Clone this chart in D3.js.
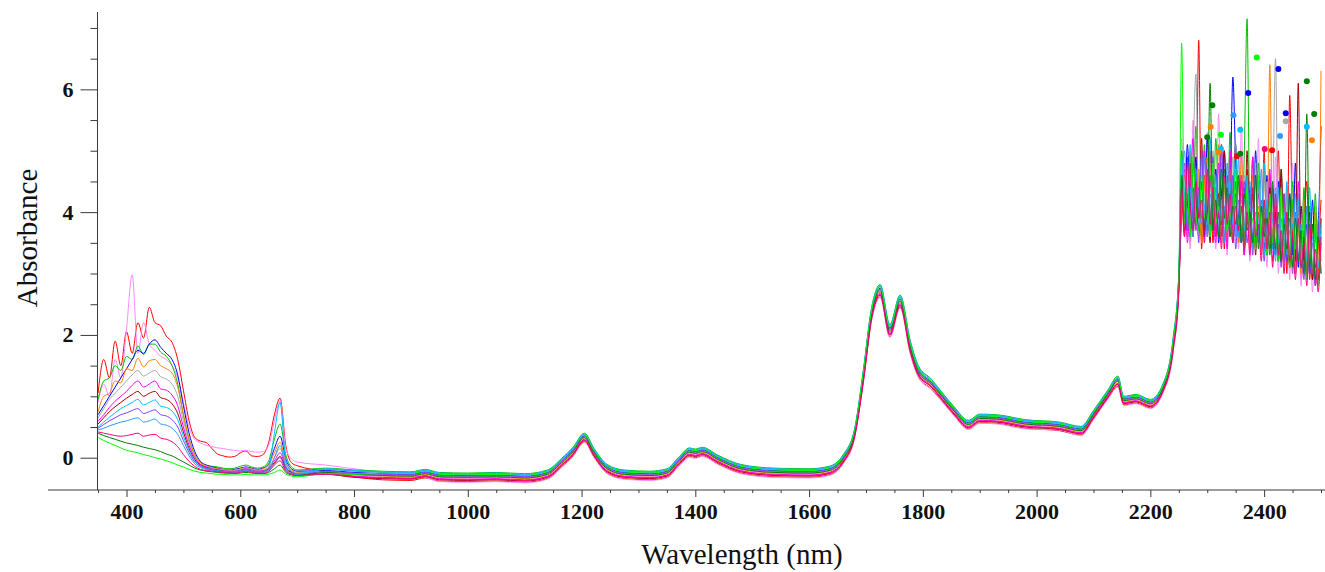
<!DOCTYPE html>
<html>
<head>
<meta charset="utf-8">
<script src="https://cdn.jsdelivr.net/npm/d3@7"></script>
<style>
  body { margin: 0; background: #fff; }
  svg { display: block; }
</style>
</head>
<body>
<svg id="chart" width="1325" height="572"></svg>
<script>
// wavelength grids (nm)
const visWl = [350,360,370,380,390,400,410,420,430,440,450,460,470,480,490,500,510,520,530,540,
  550,560,570,580,590,600,610,620,630,640,650,660,670,680,690,700];
const nirWl = [750,800,850,900,925,950,1000,1050,1100,1140,1165,1185,1205,1222,1245,1275,1320,1350,1370,1390,
  1400,1412,1440,1480,1540,1600,1635,1660,1680,1695,1710,1725,1742,1760,1778,1792,1815,1835,1855,1880,
  1900,1930,1980,2040,2078,2100,2125,2143,2153,2175,2200,2222,2240,2250];
const swirWl = [2255,2260,2265,2270,2275,2280,2285,2290,2295,2300,2305,2310,2315,2320,2325,2330,2335,2340,2345,2350,
  2355,2360,2365,2370,2375,2380,2385,2390,2395,2400,2405,2410,2415,2420,2425,2430,2435,2440,2445,2450,
  2455,2460,2465,2470,2475,2480,2485,2490,2495,2500];
const wavelengths = visWl.concat(nirWl, swirWl);

// absorbance spectra, one array per sample (vis | nir | swir)
const red = [1.05,1.6,1.3,1.9,1.5,2.05,1.7,2.2,1.95,2.45,2.2,2.15,1.98,1.88,1.6,1.1,0.6,0.33,0.27,0.25,0.15,0.06,0.03,0.01,0.02,0.08,0.11,0.03,0.02,0.05,0.25,0.7,0.97,0.2,-0.08,-0.13,
  -0.22,-0.31,-0.36,-0.37,-0.33,-0.38,-0.39,-0.38,-0.40,-0.34,-0.15,0.03,0.26,0.01,-0.25,-0.34,-0.36,-0.32,-0.14,0.02,0.00,0.03,-0.10,-0.25,-0.31,-0.32,-0.28,-0.09,0.33,1.20,2.25,2.62,1.97,2.45,1.70,1.32,1.12,0.91,0.69,0.47,0.57,0.56,0.48,0.44,0.37,0.63,0.96,1.16,0.86,0.89,0.81,1.06,1.73,2.70,
  4.2,3.6,4.9,3.5,4.4,3.8,6.8,3.4,4.6,3.7,5.0,3.5,4.4,3.9,5.1,3.4,4.6,3.6,4.3,5.1,3.5,4.1,3.3,4.7,3.6,4.9,3.5,4.0,3.4,5.0,3.3,4.4,3.2,3.9,5.0,3.2,4.3,3.0,5.9,3.6,3.0,4.1,2.9,3.6,4.5,2.9,3.8,2.8,3.4,4.2];
const pink = [0.9,1.2,1.0,1.6,1.3,2.1,2.98,1.7,2.2,1.85,1.75,1.65,1.6,1.5,1.3,0.9,0.5,0.3,0.24,0.2,0.18,0.16,0.15,0.13,0.12,0.11,0.12,0.1,0.09,0.1,0.2,0.6,0.92,0.15,-0.02,-0.07,
  -0.12,-0.18,-0.24,-0.30,-0.32,-0.39,-0.40,-0.39,-0.41,-0.35,-0.16,0.02,0.25,0.00,-0.26,-0.35,-0.37,-0.33,-0.15,0.01,-0.01,0.02,-0.11,-0.26,-0.32,-0.33,-0.29,-0.10,0.32,1.19,2.24,2.61,1.96,2.44,1.69,1.31,1.11,0.90,0.68,0.46,0.56,0.55,0.47,0.45,0.36,0.62,0.95,1.15,0.85,0.88,0.80,1.05,1.72,2.68,
  5.2,3.9,4.6,3.4,5.5,4.0,3.6,4.8,3.5,5.3,3.8,4.3,3.4,5.6,3.7,4.5,3.3,4.9,3.6,4.2,3.4,5.4,3.5,4.4,3.2,4.7,3.4,5.2,3.3,4.0,3.1,4.6,3.3,4.9,3.0,4.2,3.1,4.4,2.9,4.8,3.0,3.9,2.8,4.3,2.9,3.7,2.7,4.1,2.8,3.6];
const green = [0.95,1.25,1.3,1.5,1.42,1.65,1.6,1.82,1.68,1.85,1.85,1.72,1.65,1.5,1.2,0.7,0.3,0.05,-0.08,-0.12,-0.14,-0.15,-0.17,-0.18,-0.17,-0.14,-0.12,-0.15,-0.17,-0.15,-0.05,0.3,0.55,0.05,-0.15,-0.2,
  -0.17,-0.20,-0.22,-0.23,-0.19,-0.24,-0.25,-0.24,-0.26,-0.20,-0.01,0.17,0.40,0.15,-0.11,-0.20,-0.22,-0.18,0.00,0.16,0.14,0.17,0.04,-0.11,-0.17,-0.18,-0.14,0.05,0.47,1.40,2.45,2.82,2.17,2.65,1.90,1.50,1.28,1.05,0.83,0.61,0.71,0.70,0.62,0.58,0.51,0.77,1.10,1.33,1.00,1.03,0.95,1.20,1.95,3.00,
  5.0,4.1,3.7,4.9,3.9,5.4,4.2,3.6,5.1,4.0,4.6,3.7,5.2,4.1,3.8,4.7,3.6,5.3,4.0,3.7,4.5,3.6,4.9,7.15,3.8,4.4,3.5,4.8,3.7,4.2,3.5,4.6,3.4,4.1,3.3,4.7,3.4,4.0,3.2,4.5,3.3,3.9,3.1,4.4,3.2,3.8,3.0,4.3,3.1,3.7];
const blue = [0.7,0.85,1.0,1.15,1.3,1.45,1.6,1.75,1.7,1.85,1.92,1.8,1.7,1.6,1.35,0.85,0.4,0.1,-0.06,-0.12,-0.15,-0.17,-0.19,-0.2,-0.19,-0.17,-0.15,-0.17,-0.19,-0.17,-0.1,0.15,0.35,-0.02,-0.18,-0.22,
  -0.21,-0.24,-0.26,-0.27,-0.23,-0.28,-0.29,-0.28,-0.30,-0.24,-0.05,0.13,0.36,0.11,-0.15,-0.24,-0.26,-0.22,-0.04,0.12,0.10,0.13,0.00,-0.15,-0.21,-0.22,-0.18,0.01,0.43,1.34,2.39,2.76,2.11,2.59,1.84,1.44,1.23,1.01,0.79,0.57,0.67,0.66,0.58,0.54,0.47,0.73,1.06,1.28,0.96,0.99,0.91,1.16,1.88,2.91,
  4.4,3.8,5.1,4.2,3.7,4.9,3.9,4.5,3.6,5.2,4.0,3.8,4.7,3.5,4.3,5.0,3.7,4.2,6.2,4.8,3.9,3.5,4.4,3.8,4.4,3.5,5.0,3.7,4.1,3.4,4.6,3.6,4.0,3.3,4.5,3.4,3.9,3.2,4.3,3.3,4.8,3.1,4.1,3.2,3.8,3.0,4.2,3.1,3.7,5.4];
const orange = [0.75,1.0,1.05,1.25,1.22,1.45,1.42,1.62,1.48,1.58,1.6,1.5,1.45,1.38,1.15,0.7,0.3,0.05,-0.08,-0.13,-0.16,-0.18,-0.19,-0.2,-0.2,-0.18,-0.16,-0.18,-0.2,-0.18,-0.12,0.08,0.25,-0.08,-0.2,-0.24,
  -0.25,-0.28,-0.30,-0.31,-0.27,-0.32,-0.33,-0.32,-0.34,-0.28,-0.09,0.09,0.32,0.07,-0.19,-0.28,-0.30,-0.26,-0.08,0.08,0.06,0.09,-0.04,-0.19,-0.25,-0.26,-0.22,-0.03,0.39,1.28,2.33,2.70,2.05,2.53,1.78,1.39,1.19,0.97,0.75,0.53,0.63,0.62,0.54,0.50,0.43,0.69,1.02,1.24,0.92,0.95,0.87,1.12,1.83,2.82,
  3.9,4.6,3.6,5.0,4.1,3.8,4.7,3.5,4.4,4.9,3.7,4.3,3.6,5.1,3.9,4.4,3.5,4.7,3.8,4.2,3.5,4.9,3.7,4.3,3.4,4.6,3.6,4.1,3.3,4.8,3.5,6.4,3.4,4.2,3.3,3.9,3.2,4.4,3.1,4.0,3.3,3.7,3.0,4.2,3.1,3.6,2.9,4.0,3.0,6.3];
const gray = [0.65,0.8,0.95,1.05,1.15,1.25,1.35,1.42,1.33,1.38,1.42,1.32,1.28,1.2,1.0,0.6,0.25,0.02,-0.1,-0.14,-0.17,-0.19,-0.2,-0.21,-0.21,-0.19,-0.17,-0.19,-0.21,-0.2,-0.15,0.0,0.15,-0.12,-0.22,-0.25,
  -0.23,-0.26,-0.28,-0.29,-0.25,-0.30,-0.31,-0.30,-0.32,-0.26,-0.07,0.11,0.34,0.09,-0.17,-0.26,-0.28,-0.24,-0.06,0.10,0.08,0.11,-0.02,-0.17,-0.23,-0.24,-0.20,-0.01,0.41,1.31,2.37,2.74,2.09,2.57,1.82,1.42,1.21,0.99,0.77,0.55,0.65,0.64,0.56,0.52,0.45,0.71,1.04,1.26,0.94,0.97,0.89,1.14,1.86,2.87,
  4.8,4.0,4.5,3.7,4.9,6.25,3.8,4.3,3.9,4.7,3.6,5.0,4.1,3.7,4.6,3.8,4.2,3.6,4.9,3.7,4.4,3.5,4.6,3.9,4.1,3.4,4.8,3.6,4.0,3.5,4.5,3.4,4.2,6.5,3.6,4.1,3.3,4.4,3.2,3.9,3.4,4.3,3.1,3.8,3.2,4.0,3.0,3.6,3.1,3.9];
const magenta = [0.6,0.7,0.82,0.92,1.0,1.08,1.18,1.25,1.15,1.2,1.25,1.12,1.1,1.02,0.85,0.5,0.2,0.0,-0.11,-0.15,-0.18,-0.2,-0.21,-0.22,-0.22,-0.2,-0.18,-0.2,-0.22,-0.21,-0.17,-0.05,0.08,-0.15,-0.23,-0.26,
  -0.26,-0.30,-0.32,-0.33,-0.29,-0.34,-0.35,-0.34,-0.36,-0.30,-0.11,0.07,0.30,0.05,-0.21,-0.30,-0.32,-0.28,-0.10,0.06,0.04,0.07,-0.06,-0.21,-0.27,-0.28,-0.24,-0.05,0.37,1.26,2.31,2.68,2.03,2.51,1.76,1.37,1.17,0.95,0.73,0.51,0.61,0.60,0.52,0.48,0.41,0.67,1.00,1.21,0.90,0.93,0.85,1.10,1.81,2.79,
  4.0,4.7,3.5,4.3,5.2,3.7,4.4,3.9,5.0,3.6,4.5,4.0,3.5,4.8,3.8,4.1,3.4,5.0,3.7,4.3,3.6,4.6,3.3,4.2,3.7,4.9,3.4,4.3,3.5,4.0,3.3,4.7,3.4,4.1,3.2,4.6,3.3,3.9,3.2,4.2,3.0,4.5,3.1,3.7,3.0,4.1,2.9,3.8,2.9,3.5];
const darkRed = [0.55,0.65,0.75,0.83,0.9,0.97,1.03,1.08,1.0,1.05,1.08,0.98,0.95,0.88,0.72,0.42,0.15,-0.03,-0.12,-0.16,-0.19,-0.2,-0.22,-0.23,-0.23,-0.21,-0.19,-0.21,-0.23,-0.22,-0.18,-0.08,0.02,-0.17,-0.24,-0.27,
  -0.27,-0.32,-0.34,-0.35,-0.31,-0.36,-0.37,-0.36,-0.38,-0.32,-0.13,0.05,0.28,0.03,-0.23,-0.32,-0.34,-0.30,-0.12,0.04,0.02,0.05,-0.08,-0.23,-0.29,-0.30,-0.26,-0.07,0.35,1.23,2.28,2.65,2.00,2.48,1.73,1.35,1.15,0.93,0.71,0.49,0.59,0.58,0.50,0.46,0.39,0.65,0.98,1.19,0.88,0.91,0.83,1.08,1.77,2.74,
  4.5,3.7,4.1,4.8,3.6,4.4,3.9,5.2,3.7,4.2,3.5,4.6,3.9,4.3,3.6,5.0,3.8,4.0,3.5,4.5,3.7,4.1,3.4,5.0,3.6,4.3,3.3,4.5,3.6,3.9,3.3,4.4,3.4,4.0,3.2,4.7,3.3,3.8,3.1,4.2,3.2,6.1,3.1,3.6,3.0,4.0,2.9,3.7,2.9,3.9];
const cyan = [0.5,0.58,0.66,0.73,0.8,0.85,0.9,0.95,0.86,0.9,0.94,0.84,0.82,0.76,0.62,0.35,0.12,-0.05,-0.13,-0.17,-0.19,-0.21,-0.22,-0.23,-0.23,-0.21,-0.19,-0.21,-0.23,-0.22,-0.16,0.4,0.9,-0.05,-0.22,-0.26,
  -0.18,-0.21,-0.23,-0.24,-0.20,-0.25,-0.26,-0.25,-0.27,-0.21,-0.02,0.16,0.39,0.14,-0.12,-0.21,-0.23,-0.19,-0.01,0.15,0.13,0.16,0.03,-0.12,-0.18,-0.19,-0.15,0.04,0.46,1.39,2.44,2.81,2.16,2.64,1.89,1.49,1.27,1.04,0.82,0.60,0.70,0.69,0.61,0.57,0.50,0.76,1.09,1.31,0.99,1.02,0.94,1.19,1.93,2.98,
  4.9,4.3,3.8,5.1,4.0,4.5,3.7,4.9,4.1,3.8,5.2,3.9,4.4,3.6,4.8,4.0,3.7,4.5,3.8,5.1,3.6,4.3,3.7,4.6,3.5,4.1,3.8,4.5,3.4,4.8,3.6,4.0,3.4,4.4,3.5,3.9,3.2,4.5,3.3,3.8,3.4,4.2,3.1,3.9,3.2,4.4,3.0,3.7,3.1,3.8];
const purple = [0.48,0.54,0.6,0.65,0.7,0.73,0.77,0.8,0.72,0.75,0.78,0.7,0.68,0.62,0.5,0.28,0.08,-0.07,-0.14,-0.18,-0.2,-0.22,-0.23,-0.24,-0.24,-0.22,-0.2,-0.22,-0.24,-0.23,-0.2,-0.1,0.0,-0.2,-0.26,-0.28,
  -0.22,-0.25,-0.27,-0.28,-0.24,-0.29,-0.30,-0.29,-0.31,-0.25,-0.06,0.12,0.35,0.10,-0.16,-0.25,-0.27,-0.23,-0.05,0.11,0.09,0.12,-0.01,-0.16,-0.22,-0.23,-0.19,0.00,0.42,1.33,2.38,2.75,2.10,2.58,1.83,1.43,1.22,1.00,0.78,0.56,0.66,0.65,0.57,0.53,0.46,0.72,1.05,1.27,0.95,0.98,0.90,1.15,1.87,2.89,
  4.1,4.8,3.7,4.4,3.9,4.6,3.5,5.0,3.8,4.2,3.6,4.9,3.7,4.0,5.1,3.5,4.3,3.8,4.6,3.4,4.2,3.7,4.5,3.5,4.0,3.3,4.6,3.5,4.2,3.2,4.1,3.4,4.4,3.3,3.8,3.1,4.3,3.2,3.9,3.0,4.0,3.2,3.6,2.9,4.1,3.0,3.5,2.8,3.7,3.0];
const skyBlue = [0.45,0.48,0.52,0.55,0.58,0.6,0.63,0.65,0.58,0.6,0.63,0.55,0.53,0.48,0.38,0.2,0.03,-0.1,-0.16,-0.19,-0.21,-0.23,-0.24,-0.25,-0.25,-0.23,-0.21,-0.23,-0.25,-0.24,-0.2,0.0,0.2,-0.15,-0.26,-0.28,
  -0.19,-0.22,-0.24,-0.25,-0.21,-0.26,-0.27,-0.26,-0.28,-0.22,-0.03,0.15,0.38,0.13,-0.13,-0.22,-0.24,-0.20,-0.02,0.14,0.12,0.15,0.02,-0.13,-0.19,-0.20,-0.16,0.03,0.45,1.37,2.42,2.79,2.14,2.62,1.87,1.47,1.25,1.03,0.81,0.59,0.69,0.68,0.60,0.56,0.49,0.75,1.08,1.30,0.98,1.01,0.93,1.18,1.91,2.96,
  4.3,5.0,3.9,4.4,3.6,4.7,4.1,3.8,4.9,3.6,4.3,3.9,4.6,3.7,4.1,3.5,4.8,3.9,4.3,3.6,4.9,3.5,4.2,3.8,4.5,3.4,4.0,3.6,4.7,3.3,4.2,3.5,3.9,3.2,4.4,3.4,4.0,3.3,3.7,3.1,4.3,3.2,3.8,3.0,4.1,3.1,3.6,2.9,3.9,3.2];
const darkGreen = [0.4,0.36,0.33,0.3,0.27,0.24,0.22,0.2,0.17,0.15,0.13,0.1,0.06,0.03,-0.02,-0.07,-0.12,-0.17,-0.2,-0.22,-0.23,-0.24,-0.25,-0.25,-0.26,-0.25,-0.24,-0.25,-0.26,-0.26,-0.24,-0.18,-0.12,-0.24,-0.28,-0.29,
  -0.24,-0.27,-0.29,-0.30,-0.26,-0.31,-0.32,-0.31,-0.33,-0.27,-0.08,0.10,0.33,0.08,-0.18,-0.27,-0.29,-0.25,-0.07,0.09,0.07,0.10,-0.03,-0.18,-0.24,-0.25,-0.21,-0.02,0.40,1.30,2.35,2.72,2.07,2.55,1.80,1.40,1.20,0.98,0.76,0.54,0.64,0.63,0.55,0.51,0.44,0.70,1.03,1.25,0.93,0.96,0.88,1.13,1.85,2.85,
  4.6,3.9,4.3,3.6,4.8,4.2,3.7,4.5,3.8,4.0,6.1,3.7,4.2,3.6,4.7,3.9,4.4,3.6,4.1,3.8,4.6,3.5,4.3,3.7,4.0,3.5,4.6,3.4,4.1,3.6,3.9,3.3,4.5,3.4,4.0,3.2,3.8,3.4,4.3,3.1,3.9,3.2,3.7,3.0,5.6,3.1,3.8,2.9,3.6,3.0];
const lime = [0.33,0.28,0.24,0.2,0.16,0.12,0.1,0.08,0.05,0.03,0.0,-0.02,-0.05,-0.08,-0.12,-0.15,-0.19,-0.22,-0.24,-0.25,-0.26,-0.27,-0.27,-0.28,-0.28,-0.28,-0.27,-0.28,-0.28,-0.28,-0.27,-0.24,-0.2,-0.27,-0.3,-0.31,
  -0.26,-0.27,-0.25,-0.26,-0.22,-0.27,-0.28,-0.27,-0.29,-0.23,-0.04,0.14,0.37,0.12,-0.14,-0.23,-0.25,-0.21,-0.03,0.13,0.11,0.14,0.01,-0.14,-0.20,-0.21,-0.17,0.02,0.44,1.36,2.41,2.78,2.13,2.61,1.86,1.46,1.24,1.02,0.80,0.58,0.68,0.67,0.59,0.55,0.48,0.74,1.07,1.29,0.97,1.00,0.92,1.17,1.89,2.93,
  6.75,3.8,4.4,3.6,4.9,4.0,3.7,4.6,3.9,4.3,3.6,4.8,3.8,4.1,3.5,4.5,3.7,4.0,3.6,4.7,3.8,4.2,3.4,4.4,3.6,3.9,3.4,4.6,3.5,4.1,3.3,4.3,3.5,3.8,3.2,4.4,3.3,3.9,3.1,4.2,3.0,3.8,3.2,4.0,2.9,3.6,3.0,3.9,2.8,3.5];
const hotPink = [0.42,0.4,0.38,0.36,0.35,0.36,0.38,0.4,0.35,0.37,0.38,0.32,0.3,0.26,0.18,0.05,-0.06,-0.14,-0.19,-0.21,-0.22,-0.23,-0.24,-0.25,-0.25,-0.24,-0.22,-0.24,-0.25,-0.25,-0.22,-0.12,-0.05,-0.22,-0.27,-0.29,
  -0.27,-0.31,-0.33,-0.34,-0.30,-0.35,-0.36,-0.35,-0.37,-0.31,-0.12,0.06,0.29,0.04,-0.22,-0.31,-0.33,-0.29,-0.11,0.05,0.03,0.06,-0.07,-0.22,-0.28,-0.29,-0.25,-0.06,0.36,1.24,2.29,2.66,2.01,2.49,1.74,1.36,1.16,0.94,0.72,0.50,0.60,0.59,0.51,0.47,0.40,0.66,0.99,1.20,0.89,0.92,0.84,1.09,1.79,2.76,
  4.4,3.6,4.8,4.1,3.7,4.5,3.9,4.2,3.5,4.7,3.8,4.4,3.6,4.0,3.4,4.6,3.8,4.3,3.5,4.1,3.7,4.5,3.4,4.0,3.3,4.4,3.6,3.8,3.2,4.2,3.4,4.0,3.1,4.3,3.3,3.7,3.0,4.0,3.2,3.6,2.9,3.9,3.1,3.5,2.8,3.8,3.0,3.4,2.7,3.6];

const spectra = [red, pink, green, blue, orange, gray, magenta, darkRed, cyan, purple, skyBlue, darkGreen, lime, hotPink];
const spectraColors = ["#ff0000", "#ff88ff", "#00c000", "#0000ff", "#ff8000", "#a8a8a8", "#ff00ff",
  "#a00000", "#00bfff", "#8040ff", "#3399ff", "#008000", "#00ff00", "#ff0080"];

// symbol markers that stick out of the noisy end: [wavelength, absorbance, spectrum index]
const markerPts = [[2387,6.52,12],[2425,6.33,3],[2475,6.13,11],[2372,5.94,3],[2309,5.74,11],[2346,5.58,10],
  [2488,5.60,11],[2438,5.61,3],[2438,5.48,5],[2306,5.39,4],[2475,5.39,8],[2324,5.26,12],[2300,5.22,11],
  [2358,5.34,8],[2484,5.17,4],[2428,5.24,10],[2324,5.03,8],[2320,4.98,4],[2401,5.03,13],[2414,5.01,0],
  [2352,4.91,0],[2358,4.95,11]];

const yMajor = [0, 2, 4, 6];
const yMinor = [0.5, 1, 1.5, 2.5, 3, 3.5, 4.5, 5, 5.5, 6.5, 7];
const xMajor = [400, 600, 800, 1000, 1200, 1400, 1600, 1800, 2000, 2200, 2400];
const xMinor = [350, 450, 500, 550, 650, 700, 750, 850, 900, 950, 1050, 1100, 1150, 1250, 1300, 1350,
  1450, 1500, 1550, 1650, 1700, 1750, 1850, 1900, 1950, 2050, 2100, 2150, 2250, 2300, 2350, 2450, 2500];

const svg = d3.select("#chart");
const axisColor = "#3a3a3a";
const fontFam = "'Liberation Serif', 'Times New Roman', serif";

const x = d3.scaleLinear().domain([349, 2507]).range([97.5, 1325]);
const y = d3.scaleLinear().domain([-0.526, 7.26]).range([490, 12]);

// spectra
const line = d3.line()
  .x((d) => x(d[0]))
  .y((d) => y(d[1]))
  .curve(d3.curveMonotoneX);

svg.append("g")
  .selectAll("path")
  .data(spectra)
  .join("path")
  .attr("d", (s) => line(wavelengths.map((w, i) => [w, s[i]])))
  .attr("fill", "none")
  .attr("stroke", (s, i) => spectraColors[i])
  .attr("stroke-width", 1)
  .attr("stroke-linejoin", "round");

svg.append("g")
  .selectAll("circle")
  .data(markerPts)
  .join("circle")
  .attr("cx", (d) => x(d[0]))
  .attr("cy", (d) => y(d[1]))
  .attr("r", 3)
  .attr("fill", (d) => spectraColors[d[2]]);

// Y axis
const yAxis = svg.append("g").attr("transform", `translate(${x.range()[0]},0)`);
yAxis.call(d3.axisLeft(y).tickValues(yMajor).tickSize(17).tickPadding(7).tickSizeOuter(0).tickFormat(d3.format("d")));
yAxis.append("g").call(d3.axisLeft(y).tickValues(yMinor).tickSize(7).tickFormat("")).select(".domain").remove();
yAxis.selectAll(".domain").attr("stroke", axisColor).attr("d", `M0,${y.range()[1]}V${y.range()[0]}`);
yAxis.selectAll(".tick line").attr("stroke", axisColor);
yAxis.selectAll(".tick text")
  .attr("font-family", fontFam).attr("font-weight", "bold").attr("font-size", 22).attr("fill", "#111");

// X axis
const xAxis = svg.append("g").attr("transform", `translate(0,${y.range()[0]})`);
xAxis.call(d3.axisBottom(x).tickValues(xMajor).tickSize(7).tickPadding(6).tickFormat(d3.format("d")));
xAxis.append("g").call(d3.axisBottom(x).tickValues(xMinor).tickSize(3).tickFormat("")).select(".domain").remove();
xAxis.select(".domain").remove();
xAxis.append("line").attr("x1", 48).attr("x2", 1325).attr("stroke", axisColor);
xAxis.selectAll(".tick line").attr("stroke", axisColor);
xAxis.selectAll(".tick text")
  .attr("font-family", fontFam).attr("font-weight", "bold").attr("font-size", 22).attr("fill", "#111");

// axis titles
svg.append("text")
  .attr("transform", "translate(37,238) rotate(-90)")
  .attr("text-anchor", "middle")
  .attr("font-family", fontFam)
  .attr("font-size", 29)
  .attr("fill", "#111")
  .text("Absorbance");

svg.append("text")
  .attr("x", 742)
  .attr("y", 564)
  .attr("text-anchor", "middle")
  .attr("font-family", fontFam)
  .attr("font-size", 29)
  .attr("fill", "#111")
  .text("Wavelength (nm)");
</script>
</body>
</html>
